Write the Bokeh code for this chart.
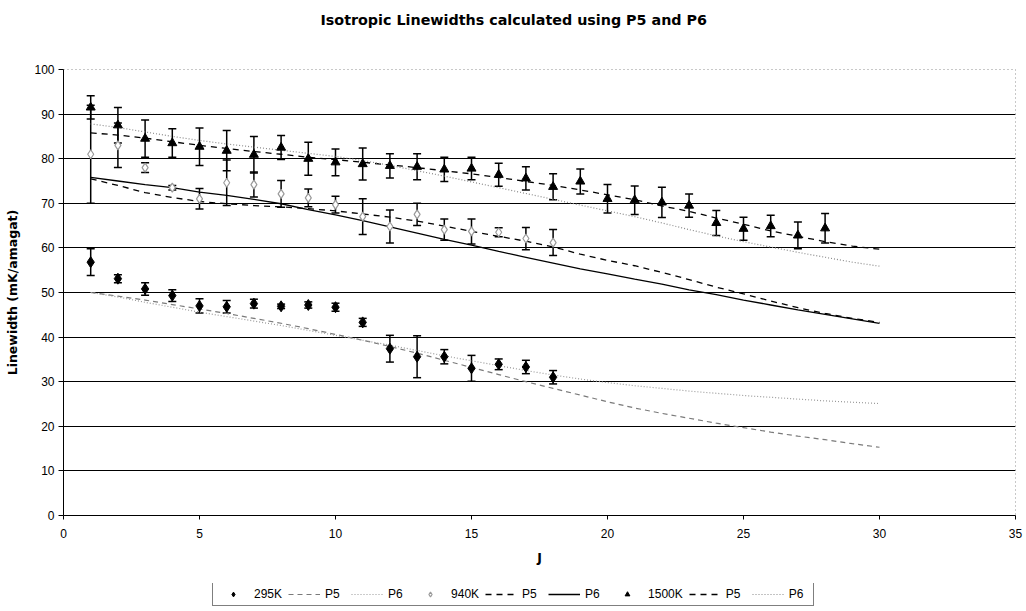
from bokeh.plotting import figure
from bokeh.layouts import column
from bokeh.models import (ColumnDataSource, Whisker, TeeHead, Legend, LegendItem,
                          FixedTicker, Range1d, Title)
from bokeh.embed import file_html
from bokeh.resources import INLINE

# ---------------- data ----------------
J_295 = list(range(1, 19))
v_295 = [56.8, 53.1, 50.8, 49.3, 47.0, 46.8, 47.5, 46.9, 47.2, 46.7, 43.3, 37.4, 35.6, 35.6, 33.0, 33.9, 33.3, 31.0]
e_295 = [3.0, 0.9, 1.4, 1.3, 1.6, 1.4, 1.0, 0.5, 0.7, 0.9, 0.9, 3.0, 4.7, 1.6, 2.9, 1.2, 1.5, 1.5]

J_940 = list(range(1, 19))
v_940 = [81.0, 83.0, 78.0, 73.5, 71.0, 74.6, 74.2, 72.1, 71.2, 69.7, 67.0, 64.8, 67.5, 64.1, 63.7, 63.5, 62.1, 61.2]
e_940 = [11.0, 5.0, 1.1, 0.5, 2.3, 5.1, 2.8, 3.0, 2.0, 1.9, 4.0, 3.7, 2.5, 2.4, 2.8, 1.0, 2.5, 2.9]

J_1500 = list(range(1, 29))
v_1500 = [91.5, 87.5, 84.5, 83.5, 82.7, 81.8, 80.9, 82.5, 80.0, 79.2, 78.8, 78.4, 78.2, 77.6,
          77.8, 76.4, 75.6, 73.7, 74.9, 71.0, 70.7, 70.2, 69.5, 65.6, 64.3, 64.9, 62.8, 64.4]
e_1500 = [2.6, 4.0, 4.2, 3.2, 4.2, 4.5, 4.1, 2.7, 3.7, 3.0, 3.6, 2.7, 2.9, 2.7,
          2.5, 2.6, 2.6, 2.9, 2.8, 3.2, 3.2, 3.4, 2.6, 2.8, 2.6, 2.4, 3.0, 3.3]

J_fit = list(range(1, 31))
p5_295 = [50.0, 49.2, 48.3, 47.3, 46.3, 45.3, 44.2, 43.1, 41.9, 40.6, 39.3, 37.9, 36.4, 34.8, 33.2,
          31.6, 30.0, 28.5, 27.0, 25.5, 24.1, 22.9, 21.8, 20.7, 19.7, 18.7, 17.8, 17.0, 16.1, 15.3]
p6_295 = [50.0, 49.0, 47.8, 46.7, 45.6, 44.6, 43.6, 42.6, 41.5, 40.4, 39.3, 38.2, 37.0, 35.8, 34.7,
          33.6, 32.5, 31.5, 30.6, 29.8, 29.1, 28.5, 27.9, 27.4, 26.9, 26.5, 26.1, 25.7, 25.4, 25.1]
p5_940 = [75.5, 74.0, 72.4, 71.3, 70.4, 69.9, 69.5, 69.2, 68.8, 68.3, 67.6, 66.9, 66.0, 64.9, 63.7,
          62.6, 61.5, 60.2, 58.6, 57.2, 56.0, 54.5, 52.9, 51.2, 49.7, 48.1, 46.6, 45.3, 44.2, 43.3]
p6_940 = [75.8, 75.0, 74.2, 73.5, 72.5, 71.8, 70.9, 69.9, 68.6, 67.4, 66.1, 64.7, 63.3, 61.9, 60.6,
          59.2, 57.9, 56.6, 55.3, 54.2, 53.0, 51.9, 50.6, 49.5, 48.3, 47.2, 46.1, 45.1, 44.1, 43.1]
p5_1500 = [85.8, 85.3, 84.6, 83.8, 83.0, 82.3, 81.6, 81.0, 80.3, 79.8, 79.2, 78.6, 78.0, 77.3, 76.6,
           75.8, 74.9, 74.0, 73.0, 71.9, 70.8, 69.4, 68.2, 66.7, 65.3, 63.8, 62.6, 61.4, 60.4, 59.7]
p6_1500 = [87.8, 87.0, 86.0, 85.0, 84.1, 83.3, 82.6, 81.9, 81.2, 80.5, 79.6, 78.5, 77.3, 76.1, 74.8,
           73.5, 72.2, 70.9, 69.6, 68.3, 67.0, 65.6, 64.1, 62.7, 61.4, 60.2, 59.0, 57.9, 56.8, 55.9]

x_ticks = [0, 5, 10, 15, 20, 25, 30, 35]
y_ticks = [0, 10, 20, 30, 40, 50, 60, 70, 80, 90, 100]
series_names = ["295K", "940K", "1500K"]
fit_names = ["P5", "P6"]

FONT = "Liberation Sans"
BOLD_FONT = "DejaVu Sans"

# styles
S295 = dict(marker="diamond", size=11, fill_color="black", line_color="black")
S940 = dict(marker="diamond", size=9, fill_color="white", line_color="#9a9a9a", line_width=1.2)
S1500 = dict(marker="triangle", size=9, fill_color="black", line_color="black")
L_P5_295 = dict(line_color="#7a7a7a", line_dash="5 4", line_width=1.2)
L_P6_295 = dict(line_color="#9a9a9a", line_dash="1 2", line_width=1.2)
L_P5_940 = dict(line_color="black", line_dash="6 5", line_width=1.3)
L_P6_940 = dict(line_color="black", line_width=1.3)
L_P5_1500 = dict(line_color="black", line_dash="6 5", line_width=1.3)
L_P6_1500 = dict(line_color="#8a8a8a", line_dash="1 2", line_width=1.2)

W = 1024
p = figure(width=W, height=583, x_range=Range1d(0, 35), y_range=Range1d(0, 100),
           output_backend="svg", toolbar_location=None,
           min_border_left=63, min_border_right=9, min_border_top=0, min_border_bottom=68)

# real title outermost, spacer title next to the frame
p.title.text = "Isotropic Linewidths calculated using P5 and P6"
p.title.align = "left"
p.title.offset = 257
p.title.standoff = 19
p.title.text_font = BOLD_FONT
p.title.text_font_size = "14.3px"
p.title.text_font_style = "bold"
p.title.text_color = "black"
p.add_layout(Title(text=" ", text_font_size="12px", standoff=16), "above")

p.outline_line_color = "#909090"
p.outline_line_dash = "1 3"

p.xgrid.visible = False
p.ygrid.ticker = FixedTicker(ticks=y_ticks[1:-1])
p.ygrid.grid_line_color = "black"
p.ygrid.grid_line_width = 1.2

for ax in (p.xaxis[0], p.yaxis[0]):
    ax.axis_line_color = "black"
    ax.major_tick_line_color = "black"
    ax.minor_tick_line_color = None
    ax.major_tick_in = 0
    ax.major_label_text_font = FONT
    ax.major_label_text_font_size = "12px"
    ax.major_label_text_color = "black"
    ax.axis_label_text_font = BOLD_FONT
    ax.axis_label_text_font_size = "12.5px"
    ax.axis_label_text_font_style = "bold"
    ax.axis_label_text_color = "black"

p.xaxis.ticker = FixedTicker(ticks=x_ticks)
p.yaxis.ticker = FixedTicker(ticks=y_ticks)
p.xaxis.major_tick_out = 4
p.yaxis.major_tick_out = 5
p.xaxis.major_label_standoff = 9
p.yaxis.major_label_standoff = 4
p.xaxis.axis_label = "J"
p.yaxis.axis_label = "Linewidth (mK/amagat)"
p.xaxis.axis_label_standoff = 9
p.yaxis.axis_label_standoff = 11

# fitted lines
p.line(J_fit, p5_295, **L_P5_295)
p.line(J_fit, p6_295, **L_P6_295)
p.line(J_fit, p5_940, **L_P5_940)
p.line(J_fit, p6_940, **L_P6_940)
p.line(J_fit, p5_1500, **L_P5_1500)
p.line(J_fit, p6_1500, **L_P6_1500)


def errbars(J, v, e):
    src = ColumnDataSource(dict(x=J, lo=[a - b for a, b in zip(v, e)], hi=[a + b for a, b in zip(v, e)]))
    w = Whisker(base="x", lower="lo", upper="hi", source=src, line_color="black", line_width=1.5,
                upper_head=TeeHead(size=8, line_color="black", line_width=1.5),
                lower_head=TeeHead(size=8, line_color="black", line_width=1.5))
    p.add_layout(w)


errbars(J_295, v_295, e_295)
errbars(J_940, v_940, e_940)
errbars(J_1500, v_1500, e_1500)

p.scatter(J_295, v_295, **S295)
p.scatter(J_940, v_940, **S940)
p.scatter(J_1500, v_1500, **S1500)

# ---------------- legend strip (separate small figure) ----------------
lg = figure(width=W, height=26, x_range=Range1d(0, 1), y_range=Range1d(0, 1),
            output_backend="svg", toolbar_location=None, x_axis_type=None, y_axis_type=None,
            min_border=0)
lg.title.visible = False
lg.outline_line_color = None
lg.xgrid.visible = False
lg.ygrid.visible = False

# legend-only renderers, drawn outside the strip's visible range
px, py = [5, 6], [5, 6]
g295 = lg.scatter(px[:1], py[:1], **S295)
g_p5_295 = lg.line(px, py, **L_P5_295)
g_p6_295 = lg.line(px, py, **L_P6_295)
g940 = lg.scatter(px[:1], py[:1], **S940)
g_p5_940 = lg.line(px, py, **L_P5_940)
g_p6_940 = lg.line(px, py, **L_P6_940)
g1500 = lg.scatter(px[:1], py[:1], **S1500)
g_p5_1500 = lg.line(px, py, **L_P5_1500)
g_p6_1500 = lg.line(px, py, **L_P6_1500)

items = [
    LegendItem(label=series_names[0], renderers=[g295]),
    LegendItem(label=fit_names[0], renderers=[g_p5_295]),
    LegendItem(label=fit_names[1], renderers=[g_p6_295]),
    LegendItem(label=series_names[1], renderers=[g940]),
    LegendItem(label=fit_names[0], renderers=[g_p5_940]),
    LegendItem(label=fit_names[1], renderers=[g_p6_940]),
    LegendItem(label=series_names[2], renderers=[g1500]),
    LegendItem(label=fit_names[0], renderers=[g_p5_1500]),
    LegendItem(label=fit_names[1], renderers=[g_p6_1500]),
]
legend = Legend(items=items, orientation="horizontal", location=(149, 3),
                border_line_color="black", border_line_width=1, background_fill_color="white",
                background_fill_alpha=1.0,
                label_text_font=FONT, label_text_font_size="12px", label_text_color="black",
                glyph_width=32, glyph_height=12, spacing=6, padding=4, label_standoff=5, margin=0,
                label_height=12)
lg.add_layout(legend, "center")

layout = column(p, lg, spacing=0)
open("out.html", "w").write(file_html(layout, INLINE))
